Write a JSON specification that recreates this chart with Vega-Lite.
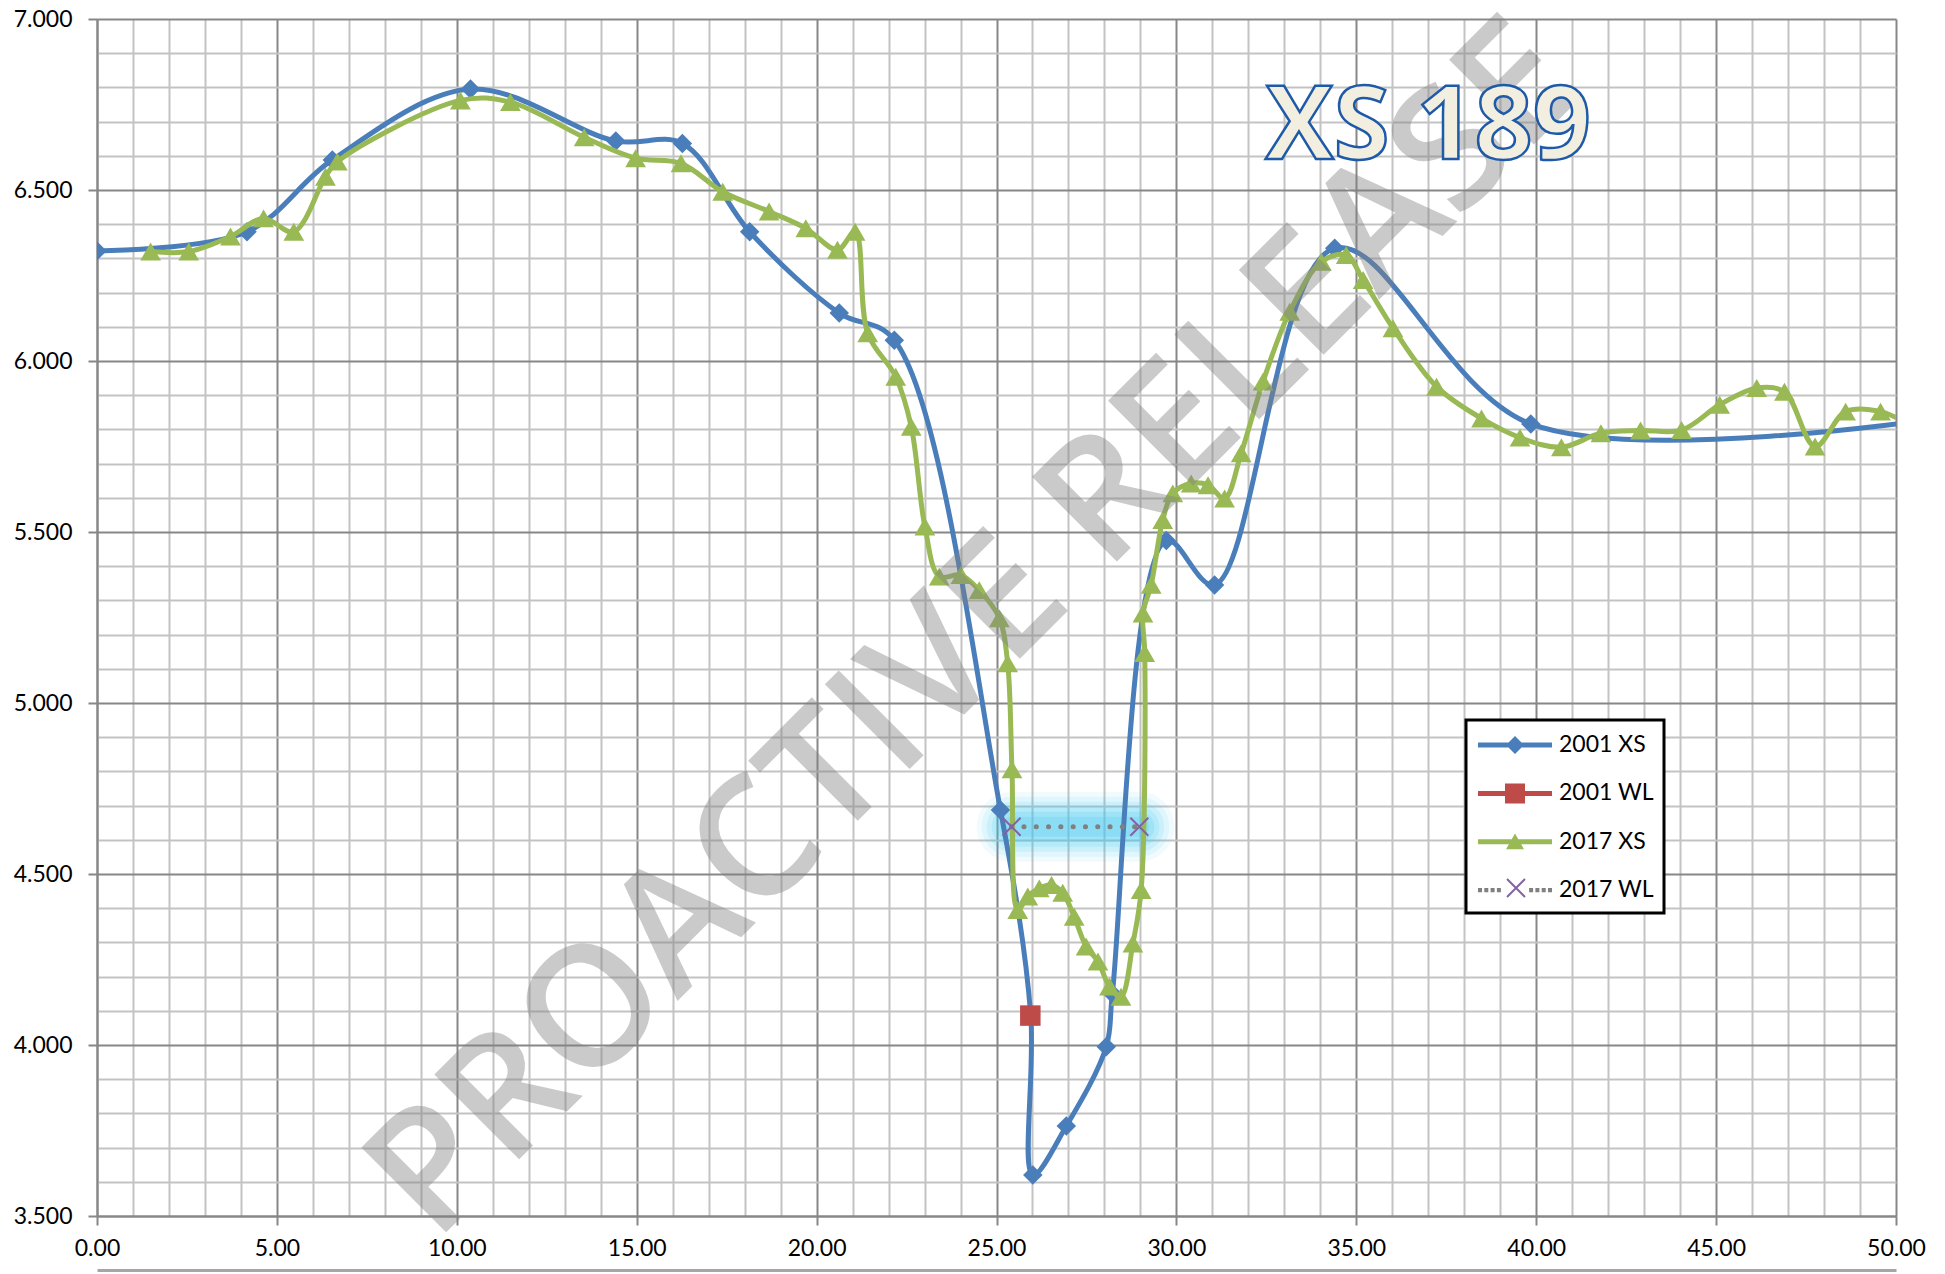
{
  "$schema": "https://vega.github.io/schema/vega-lite/v6.json",
  "width": 1799,
  "height": 1197,
  "autosize": {"type": "none"},
  "padding": {"left": 97, "top": 19, "right": 49, "bottom": 58},
  "background": "white",
  "config": {"view": {"stroke": null}, "font": "Lato", "legend": {"strokeWidth": 3}},
  "datasets": {
    "xs01": [
      {"x": 0, "y": 6.322, "i": 0}, {"x": 4.17, "y": 6.378, "i": 1}, {"x": 6.54, "y": 6.588, "i": 2},
      {"x": 10.38, "y": 6.795, "i": 3}, {"x": 14.42, "y": 6.643, "i": 4}, {"x": 16.27, "y": 6.636, "i": 5},
      {"x": 18.14, "y": 6.378, "i": 6}, {"x": 20.63, "y": 6.14, "i": 7}, {"x": 22.16, "y": 6.061, "i": 8},
      {"x": 25.11, "y": 4.687, "i": 9}, {"x": 25.95, "y": 4.09, "i": 10}, {"x": 26.01, "y": 3.62, "i": 11},
      {"x": 26.94, "y": 3.763, "i": 12}, {"x": 28.05, "y": 3.995, "i": 13}, {"x": 28.22, "y": 4.15, "i": 14},
      {"x": 29.72, "y": 5.475, "i": 15}, {"x": 31.06, "y": 5.345, "i": 16}, {"x": 34.4, "y": 6.33, "i": 17},
      {"x": 39.85, "y": 5.816, "i": 18}, {"x": 51, "y": 5.83, "i": 19}
    ],
    "xs17": [
      {"x": 1.49, "y": 6.32, "i": 0}, {"x": 2.55, "y": 6.32, "i": 1}, {"x": 3.71, "y": 6.364, "i": 2},
      {"x": 4.63, "y": 6.417, "i": 3}, {"x": 5.47, "y": 6.378, "i": 4}, {"x": 6.35, "y": 6.539, "i": 5},
      {"x": 6.68, "y": 6.583, "i": 6}, {"x": 10.1, "y": 6.762, "i": 7}, {"x": 11.49, "y": 6.757, "i": 8},
      {"x": 13.54, "y": 6.654, "i": 9}, {"x": 14.97, "y": 6.593, "i": 10}, {"x": 16.23, "y": 6.578, "i": 11},
      {"x": 17.39, "y": 6.495, "i": 12}, {"x": 18.68, "y": 6.437, "i": 13}, {"x": 19.7, "y": 6.388, "i": 14},
      {"x": 20.58, "y": 6.325, "i": 15}, {"x": 21.07, "y": 6.378, "i": 16}, {"x": 21.42, "y": 6.081, "i": 17},
      {"x": 22.2, "y": 5.954, "i": 18}, {"x": 22.63, "y": 5.808, "i": 19}, {"x": 23.01, "y": 5.516, "i": 20},
      {"x": 23.41, "y": 5.37, "i": 21}, {"x": 24.01, "y": 5.374, "i": 22}, {"x": 24.52, "y": 5.33, "i": 23},
      {"x": 25.08, "y": 5.248, "i": 24}, {"x": 25.31, "y": 5.116, "i": 25}, {"x": 25.43, "y": 4.806, "i": 26},
      {"x": 25.59, "y": 4.395, "i": 27}, {"x": 25.87, "y": 4.434, "i": 28}, {"x": 26.19, "y": 4.458, "i": 29},
      {"x": 26.53, "y": 4.468, "i": 30}, {"x": 26.84, "y": 4.445, "i": 31}, {"x": 27.16, "y": 4.375, "i": 32},
      {"x": 27.49, "y": 4.288, "i": 33}, {"x": 27.82, "y": 4.244, "i": 34}, {"x": 28.14, "y": 4.171, "i": 35},
      {"x": 28.46, "y": 4.141, "i": 36}, {"x": 28.79, "y": 4.297, "i": 37}, {"x": 29.02, "y": 4.453, "i": 38},
      {"x": 29.12, "y": 5.146, "i": 39}, {"x": 29.07, "y": 5.262, "i": 40}, {"x": 29.3, "y": 5.346, "i": 41},
      {"x": 29.62, "y": 5.535, "i": 42}, {"x": 29.9, "y": 5.613, "i": 43}, {"x": 30.41, "y": 5.642, "i": 44},
      {"x": 30.88, "y": 5.637, "i": 45}, {"x": 31.34, "y": 5.598, "i": 46}, {"x": 31.8, "y": 5.73, "i": 47},
      {"x": 32.41, "y": 5.94, "i": 48}, {"x": 33.15, "y": 6.144, "i": 49}, {"x": 34.03, "y": 6.29, "i": 50},
      {"x": 34.72, "y": 6.31, "i": 51}, {"x": 35.19, "y": 6.237, "i": 52}, {"x": 36.02, "y": 6.096, "i": 53},
      {"x": 37.23, "y": 5.925, "i": 54}, {"x": 38.48, "y": 5.832, "i": 55}, {"x": 39.55, "y": 5.776, "i": 56},
      {"x": 40.7, "y": 5.748, "i": 57}, {"x": 41.8, "y": 5.789, "i": 58}, {"x": 42.9, "y": 5.797, "i": 59},
      {"x": 44.04, "y": 5.798, "i": 60}, {"x": 45.1, "y": 5.872, "i": 61}, {"x": 46.13, "y": 5.921, "i": 62},
      {"x": 46.9, "y": 5.91, "i": 63}, {"x": 47.75, "y": 5.75, "i": 64}, {"x": 48.6, "y": 5.852, "i": 65},
      {"x": 49.57, "y": 5.852, "i": 66}, {"x": 50.6, "y": 5.8, "i": 67}
    ],
    "wl01": [{"x": 25.94, "y": 4.086, "series": "2001 WL"}],
    "wl17": [{"x": 25.42, "y": 4.638, "series": "2017 WL"}, {"x": 28.97, "y": 4.638, "series": "2017 WL"}],
    "leg": [{"series": "2001 XS"}, {"series": "2001 WL"}, {"series": "2017 XS"}, {"series": "2017 WL"}],
    "wmark": [{"label": "PROACTIVE RELEASE"}],
    "ttl": [{"label": "XS 189"}]
  },
  "layer": [
    {
      "data": {"name": "xs01"},
      "mark": {"type": "point", "opacity": 0},
      "encoding": {
        "x": {"field": "x", "type": "quantitative", "scale": {"domain": [0, 50], "nice": false, "zero": false},
          "axis": {"orient": "bottom", "values": [1,2,3,4,6,7,8,9,11,12,13,14,16,17,18,19,21,22,23,24,26,27,28,29,31,32,33,34,36,37,38,39,41,42,43,44,46,47,48,49],
            "grid": true, "gridColor": "#C3C3C3", "gridWidth": 2, "labels": false, "ticks": false, "domain": false, "title": null}},
        "y": {"field": "y", "type": "quantitative", "scale": {"domain": [3.5, 7], "nice": false, "zero": false},
          "axis": {"orient": "left", "values": [3.6,3.7,3.8,3.9,4.1,4.2,4.3,4.4,4.6,4.7,4.8,4.9,5.1,5.2,5.3,5.4,5.6,5.7,5.8,5.9,6.1,6.2,6.3,6.4,6.6,6.7,6.8,6.9],
            "grid": true, "gridColor": "#C3C3C3", "gridWidth": 2, "labels": false, "ticks": false, "domain": false, "title": null}}
      }
    },
    {
      "data": {"name": "xs01"},
      "mark": {"type": "point", "opacity": 0},
      "encoding": {
        "x": {"field": "x", "type": "quantitative", "scale": {"domain": [0, 50], "nice": false, "zero": false},
          "axis": {"orient": "bottom", "values": [0,5,10,15,20,25,30,35,40,45,50], "format": ".2f",
            "grid": true, "gridColor": "#878787", "gridWidth": 2, "ticks": true, "tickSize": 9, "tickColor": "#878787", "tickWidth": 2,
            "domain": true, "domainColor": "#878787", "domainWidth": 2, "labelFont": "Lato", "labelFontSize": 23, "labelColor": "#000000",
            "labelPadding": 12, "labelFlush": false, "labelOverlap": false, "title": null}},
        "y": {"field": "y", "type": "quantitative", "scale": {"domain": [3.5, 7], "nice": false, "zero": false},
          "axis": {"orient": "left", "values": [3.5,4,4.5,5,5.5,6,6.5,7], "format": ".3f",
            "grid": true, "gridColor": "#878787", "gridWidth": 2, "ticks": true, "tickSize": 9, "tickColor": "#878787", "tickWidth": 2,
            "domain": true, "domainColor": "#878787", "domainWidth": 2, "labelFont": "Lato", "labelFontSize": 23, "labelColor": "#000000",
            "labelPadding": 16, "labelFlush": false, "labelOverlap": false, "title": null}}
      }
    },
    {
      "data": {"name": "xs01"},
      "mark": {"type": "point", "opacity": 0},
      "encoding": {
        "x": {"field": "x", "type": "quantitative", "scale": {"domain": [0, 50], "nice": false, "zero": false},
          "axis": {"orient": "bottom", "offset": 54, "values": [], "grid": false, "labels": false, "ticks": false,
            "domain": true, "domainColor": "#A6A6A6", "domainWidth": 3, "title": null}},
        "y": {"field": "y", "type": "quantitative", "scale": {"domain": [3.5, 7], "nice": false, "zero": false}, "axis": null}
      }
    },
    {"data": {"name": "wl17"}, "mark": {"type": "line", "color": "#3CC6F0", "strokeWidth": 70, "strokeCap": "round", "opacity": 0.07},
      "encoding": {"x": {"field": "x", "type": "quantitative", "scale": {"domain": [0, 50]}, "axis": null}, "y": {"field": "y", "type": "quantitative", "scale": {"domain": [3.5, 7]}, "axis": null}}},
    {"data": {"name": "wl17"}, "mark": {"type": "line", "color": "#3CC6F0", "strokeWidth": 60, "strokeCap": "round", "opacity": 0.09},
      "encoding": {"x": {"field": "x", "type": "quantitative", "scale": {"domain": [0, 50]}, "axis": null}, "y": {"field": "y", "type": "quantitative", "scale": {"domain": [3.5, 7]}, "axis": null}}},
    {"data": {"name": "wl17"}, "mark": {"type": "line", "color": "#3CC6F0", "strokeWidth": 50, "strokeCap": "round", "opacity": 0.12},
      "encoding": {"x": {"field": "x", "type": "quantitative", "scale": {"domain": [0, 50]}, "axis": null}, "y": {"field": "y", "type": "quantitative", "scale": {"domain": [3.5, 7]}, "axis": null}}},
    {"data": {"name": "wl17"}, "mark": {"type": "line", "color": "#3CC6F0", "strokeWidth": 40, "strokeCap": "round", "opacity": 0.15},
      "encoding": {"x": {"field": "x", "type": "quantitative", "scale": {"domain": [0, 50]}, "axis": null}, "y": {"field": "y", "type": "quantitative", "scale": {"domain": [3.5, 7]}, "axis": null}}},
    {"data": {"name": "wl17"}, "mark": {"type": "line", "color": "#3CC6F0", "strokeWidth": 30, "strokeCap": "round", "opacity": 0.18},
      "encoding": {"x": {"field": "x", "type": "quantitative", "scale": {"domain": [0, 50]}, "axis": null}, "y": {"field": "y", "type": "quantitative", "scale": {"domain": [3.5, 7]}, "axis": null}}},
    {"data": {"name": "wl17"}, "mark": {"type": "line", "color": "#3CC6F0", "strokeWidth": 20, "strokeCap": "round", "opacity": 0.2},
      "encoding": {"x": {"field": "x", "type": "quantitative", "scale": {"domain": [0, 50]}, "axis": null}, "y": {"field": "y", "type": "quantitative", "scale": {"domain": [3.5, 7]}, "axis": null}}},
    {
      "data": {"name": "xs01"},
      "mark": {"type": "line", "interpolate": "catmull-rom", "color": "#4A7EBB", "strokeWidth": 5, "clip": true},
      "encoding": {"x": {"field": "x", "type": "quantitative", "scale": {"domain": [0, 50]}, "axis": null}, "y": {"field": "y", "type": "quantitative", "scale": {"domain": [3.5, 7]}, "axis": null},
        "order": {"field": "i", "type": "quantitative"}}
    },
    {
      "data": {"name": "xs01"},
      "mark": {"type": "point", "shape": "diamond", "filled": true, "size": 380, "color": "#4A7EBB", "opacity": 1, "clip": true},
      "encoding": {"x": {"field": "x", "type": "quantitative", "scale": {"domain": [0, 50]}, "axis": null}, "y": {"field": "y", "type": "quantitative", "scale": {"domain": [3.5, 7]}, "axis": null}}
    },
    {
      "data": {"name": "wl01"},
      "mark": {"type": "point", "shape": "square", "filled": true, "size": 420, "color": "#BE4B48", "opacity": 1, "clip": true},
      "encoding": {"x": {"field": "x", "type": "quantitative", "scale": {"domain": [0, 50]}, "axis": null}, "y": {"field": "y", "type": "quantitative", "scale": {"domain": [3.5, 7]}, "axis": null}}
    },
    {
      "data": {"name": "xs17"},
      "mark": {"type": "line", "interpolate": "catmull-rom", "color": "#98B954", "strokeWidth": 5, "clip": true},
      "encoding": {"x": {"field": "x", "type": "quantitative", "scale": {"domain": [0, 50]}, "axis": null}, "y": {"field": "y", "type": "quantitative", "scale": {"domain": [3.5, 7]}, "axis": null},
        "order": {"field": "i", "type": "quantitative"}}
    },
    {
      "data": {"name": "xs17"},
      "mark": {"type": "point", "shape": "triangle-up", "filled": true, "size": 430, "color": "#98B954", "opacity": 1, "clip": true},
      "encoding": {"x": {"field": "x", "type": "quantitative", "scale": {"domain": [0, 50]}, "axis": null}, "y": {"field": "y", "type": "quantitative", "scale": {"domain": [3.5, 7]}, "axis": null}}
    },
    {
      "data": {"name": "wl17"},
      "mark": {"type": "line", "color": "#808080", "strokeWidth": 5, "strokeCap": "round", "strokeDash": [0.1, 12.2]},
      "encoding": {"x": {"field": "x", "type": "quantitative", "scale": {"domain": [0, 50]}, "axis": null}, "y": {"field": "y", "type": "quantitative", "scale": {"domain": [3.5, 7]}, "axis": null}}
    },
    {
      "data": {"name": "wl17"},
      "mark": {"type": "point", "shape": "M-0.6,-0.6L0.6,0.6M-0.6,0.6L0.6,-0.6", "filled": false, "size": 900, "strokeWidth": 2, "opacity": 1},
      "encoding": {
        "x": {"field": "x", "type": "quantitative", "scale": {"domain": [0, 50]}, "axis": null}, "y": {"field": "y", "type": "quantitative", "scale": {"domain": [3.5, 7]}, "axis": null},
        "stroke": {"field": "series", "type": "nominal", "scale": {"domain": ["2017 WL"], "range": ["#8064A2"]},
          "legend": {"orient": "none", "legendX": 1369, "legendY": 843, "title": null, "padding": 10, "symbolOffset": 24, "labelOffset": 29,
            "symbolSize": 900, "symbolStrokeWidth": 2, "symbolType": "M-0.6,-0.6L0.6,0.6M-0.6,0.6L0.6,-0.6", "symbolFillColor": "transparent",
            "labelFont": "Lato", "labelFontSize": 23, "labelOpacity": 0, "labelExpr": "''", "strokeColor": "transparent", "zindex": 2}}
      }
    },
    {
      "data": {"name": "leg"},
      "mark": {"type": "point", "filled": true, "opacity": 0},
      "encoding": {
        "x": {"datum": 25, "type": "quantitative", "scale": {"domain": [0, 50]}, "axis": null},
        "y": {"datum": 5, "type": "quantitative", "scale": {"domain": [3.5, 7]}, "axis": null},
        "color": {"field": "series", "type": "nominal",
          "scale": {"domain": ["2001 XS", "2001 WL", "2017 XS", "2017 WL"], "range": ["#4A7EBB", "#BE4B48", "#98B954", "#808080"]},
          "legend": {"orient": "none", "legendX": 1369, "legendY": 701, "title": null, "padding": 10, "rowPadding": 21.4, "symbolOffset": 24, "labelOffset": 29,
            "symbolSize": 900, "symbolStrokeWidth": 0, "symbolOpacity": 1, "labelFont": "Lato", "labelFontSize": 23, "labelColor": "#000000", "labelLimit": 0,
            "strokeColor": "#000000", "fillColor": "#FFFFFF", "zindex": 1}},
        "shape": {"field": "series", "type": "nominal",
          "scale": {"domain": ["2001 XS", "2001 WL", "2017 XS", "2017 WL"],
            "range": [
              "M-2.467,-0.167H2.467V0.167H-2.467Z M0,-0.6L0.6,0L0,0.6L-0.6,0Z",
              "M-2.467,-0.167H2.467V0.167H-2.467Z M-0.667,-0.667H0.667V0.667H-0.667Z",
              "M-2.467,-0.167H2.467V0.167H-2.467Z M0,-0.55L0.6,0.5L-0.6,0.5Z",
              "M-2.467,-0.14H-2.2V0.14H-2.467Z M-2.047,-0.14H-1.78V0.14H-2.047Z M-1.627,-0.14H-1.36V0.14H-1.627Z M-1.207,-0.14H-0.94V0.14H-1.207Z M0.94,-0.14H1.207V0.14H0.94Z M1.36,-0.14H1.627V0.14H1.36Z M1.78,-0.14H2.047V0.14H1.78Z M2.2,-0.14H2.467V0.14H2.2Z"
            ]},
          "legend": {"orient": "none", "legendX": 1369, "legendY": 701, "title": null, "padding": 10, "rowPadding": 21.4, "symbolOffset": 24, "labelOffset": 29,
            "symbolSize": 900, "symbolStrokeWidth": 0, "symbolOpacity": 1, "labelFont": "Lato", "labelFontSize": 23, "labelColor": "#000000", "labelLimit": 0,
            "strokeColor": "#000000", "fillColor": "#FFFFFF", "zindex": 1}}
      }
    },
    {
      "data": {"name": "wmark"},
      "mark": {"type": "text", "font": "Open Sans", "fontSize": 168, "fontWeight": 600, "angle": 315,
        "align": "center", "baseline": "middle", "fill": "#808080", "fillOpacity": 0.42},
      "encoding": {
        "x": {"datum": 24.45, "type": "quantitative", "scale": {"domain": [0, 50]}, "axis": null},
        "y": {"datum": 5.21, "type": "quantitative", "scale": {"domain": [3.5, 7]}, "axis": null},
        "text": {"field": "label", "type": "nominal"}
      }
    },
    {
      "data": {"name": "ttl"},
      "mark": {"type": "text", "font": "Open Sans", "fontSize": 102, "fontWeight": "bold",
        "align": "center", "baseline": "middle", "fill": "#F3EFE0", "stroke": "#1F5AA8", "strokeWidth": 2.5},
      "encoding": {
        "x": {"datum": 37.0, "type": "quantitative", "scale": {"domain": [0, 50]}, "axis": null},
        "y": {"datum": 6.68, "type": "quantitative", "scale": {"domain": [3.5, 7]}, "axis": null},
        "text": {"field": "label", "type": "nominal"}
      }
    }
  ],
  "resolve": {"axis": {"x": "independent", "y": "independent"}}
}
